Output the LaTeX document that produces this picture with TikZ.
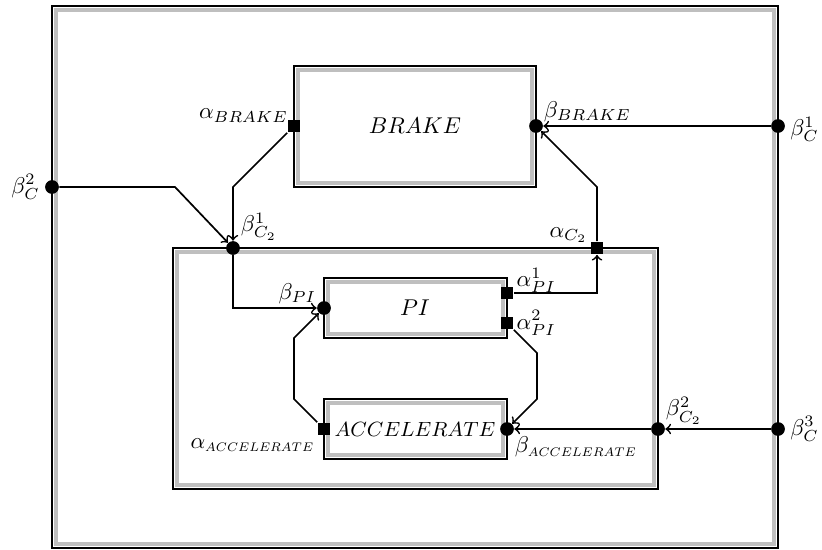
\documentclass[tikz,border=0pt]{standalone}
\usepackage{tikz}
\usetikzlibrary{calc}
\usepackage{xcolor}
\usepackage{graphicx}

\newcommand{\accsub}{\scalebox{0.78}{$\scriptstyle ACCELERATE$}}

\tikzset{
  outline/.style={draw=black, line width=1.2pt},
  band/.style={draw=black!25, line width=2pt},
  inport/.style={circle, fill=black, inner sep=0pt, minimum size=6pt},
  outport/.style={rectangle, fill=black, inner sep=0pt, minimum size=5.6pt},
  lbl/.style={inner sep=1pt},
  conn/.style={->, line width=0.75pt},
}

\begin{document}
\begin{tikzpicture}[x=0.4375pt, y=-0.4375pt]
\useasboundingbox (0,0) rectangle (822,549);
% outer component C
\draw[band] (56,10) rectangle (774,544);
\draw[outline] (52,6) rectangle (778,548);
% BRAKE
\draw[band] (298,70) rectangle (532,183);
\draw[outline] (294,66) rectangle (536,187);
\node (brake) at (415,126) {$BRAKE$};
% inner component C2
\draw[band] (177,252) rectangle (654,485);
\draw[outline] (173,248) rectangle (658,489);
% PI
\draw[band] (328,282) rectangle (503,334);
\draw[outline] (324,278) rectangle (507,338);
\node (pi) at (415,308) {$PI$};
% ACCELERATE
\draw[band] (328,403) rectangle (503,455);
\draw[outline] (324,399) rectangle (507,459);
\node[font=\small] (acc) at (415,429) {$ACCELERATE$};

% ports
\node[inport, label={[lbl, xshift=-1pt]left:$\beta^2_C$}] (bC2) at (52,187) {};
\node[inport, label={[lbl, xshift=1pt, yshift=-1.5pt]right:$\beta^1_C$}] (bC1) at (778,126) {};
\node[inport, label={[lbl, xshift=1pt]right:$\beta^3_C$}] (bC3) at (778,429) {};
\node[outport, label={[lbl, xshift=1.5pt, yshift=-2.5pt]above left:$\alpha_{BRAKE}$}] (aBrake) at (294,126) {};
\node[inport, label={[lbl, yshift=-1.5pt]above right:$\beta_{BRAKE}$}] (bBrake) at (536,126) {};
\node[inport, label={[lbl]above right:$\beta^1_{C_2}$}] (bC21) at (233,248) {};
\node[outport, label={[lbl, yshift=-2pt]above left:$\alpha_{C_2}$}] (aC2) at (597,248) {};
\node[inport, label={[lbl, yshift=-1.5pt]above right:$\beta^2_{C_2}$}] (bC22) at (658,429) {};
\node[inport, label={[lbl, yshift=-1.5pt]above left:$\beta_{PI}$}] (bPI) at (324,308) {};
\node[outport, label={[lbl, yshift=5.5pt]right:$\alpha^1_{PI}$}] (aPI1) at (507,293) {};
\node[outport, label={[lbl]right:$\alpha^2_{PI}$}] (aPI2) at (507,323) {};
\node[outport, label={[lbl]below left:$\alpha_{\accsub}$}] (aAcc) at (324,429) {};
\node[inport, label={[lbl]below right:$\beta_{\accsub}$}] (bAcc) at (507,429) {};

% connectors
\draw[conn] (bC2) -- (175,187) -- (bC21);
\draw[conn] (aBrake) -- (233,187) -- (bC21);
\draw[conn] (bC1) -- (bBrake);
\draw[conn] (aC2) -- (597,187) -- (bBrake);
\draw[conn] (aPI1) -- (597,293) -- (aC2);
\draw[conn] (bC21) -- (233,308) -- (bPI);
\draw[conn] (aAcc) -- (294,399) -- (294,338) -- (bPI);
\draw[conn] (aPI2) -- (537,353) -- (537,399) -- (bAcc);
\draw[conn] (bC3) -- (bC22);
\draw[conn] (bC22) -- (bAcc);
\end{tikzpicture}
\end{document}
